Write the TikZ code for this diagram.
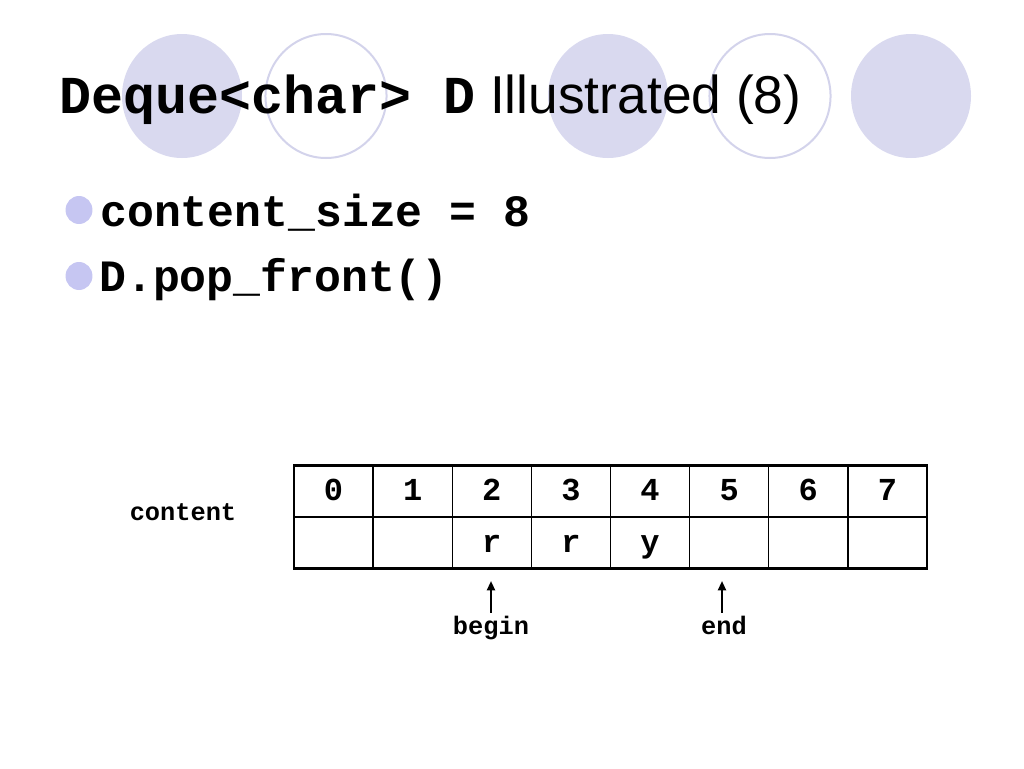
\documentclass[tikz,border=0pt]{standalone}
\usepackage{fontspec}
\usetikzlibrary{arrows.meta}
\newfontfamily\codefont{Liberation Mono}
\newfontfamily\slidefont{Liberation Sans}
\definecolor{discfill}{HTML}{D9D9EF}
\definecolor{ringline}{HTML}{D3D3EB}
\definecolor{dotfill}{HTML}{C6C6F2}

\begin{document}
\begin{tikzpicture}[x=0.75pt,y=-0.75pt,
    disc/.style={fill=discfill},
    ring/.style={draw=ringline,line width=1.5pt},
    dot/.style={fill=dotfill},
    bigcode/.style={inner sep=0pt,anchor=base west,font=\codefont\bfseries\fontsize{33.6}{40}\selectfont},
    cell/.style={draw,line width=1.1pt,outer sep=0pt,inner sep=0pt,
      minimum width=59.34pt,minimum height=38.6pt,text height=14.2pt,text depth=0pt,
      font=\codefont\bfseries\fontsize{24}{24}\selectfont},
    tag/.style={inner sep=0pt,anchor=base,font=\codefont\bfseries\fontsize{19}{19}\selectfont},
    ptr/.style={-{Triangle[length=7pt,width=6pt]},line width=1.5pt}]
  \useasboundingbox (0,0) rectangle (1024,768);

  % title circles
  \foreach \cx in {182,608,911}
    \fill[disc] (\cx,96) ellipse [x radius=45pt,y radius=46.5pt];
  \foreach \cx in {326,770}
    \draw[ring] (\cx,96) ellipse [x radius=45.4pt,y radius=46.5pt];

  \node[inner sep=0pt,anchor=base west,font=\fontsize{40}{48}\selectfont] (title) at (59,113)
    {{\codefont\bfseries Deque<char> D}\slidefont\ Illustrated (8)};

  % bullets
  \fill[dot] (79,210) ellipse [x radius=10.1pt,y radius=10.5pt];
  \fill[dot] (79,276) ellipse [x radius=10.1pt,y radius=10.5pt];
  \node[bigcode] (size) at (100,226) {content\_size = 8};
  \node[bigcode] (call) at (99,291) {D.pop\_front()};

  % the array
  \node[tag] (content) at (183,520) {content};
  \foreach \i/\v in {0/{},1/{},2/r,3/r,4/y,5/{},6/{},7/{}} {
    \node[cell] (idx\i) at ({333.56+79.125*\i},491.25) {\i};
    \node[cell] (val\i) at ({333.56+79.125*\i},542.75) {\v};
  }
  \draw[line width=2.2pt] (idx0.north west) rectangle (val7.south east);

  % begin / end
  \node[tag] (begin) at (491,634) {begin};
  \node[tag] (end) at (724,634) {end};
  \coordinate (btip) at (491,581);
  \coordinate (etip) at (722,581);
  \draw[ptr,shorten <=2pt] (btip |- begin.north) -- (btip);
  \draw[ptr,shorten <=2pt] (etip |- end.north) -- (etip);
\end{tikzpicture}
\end{document}
